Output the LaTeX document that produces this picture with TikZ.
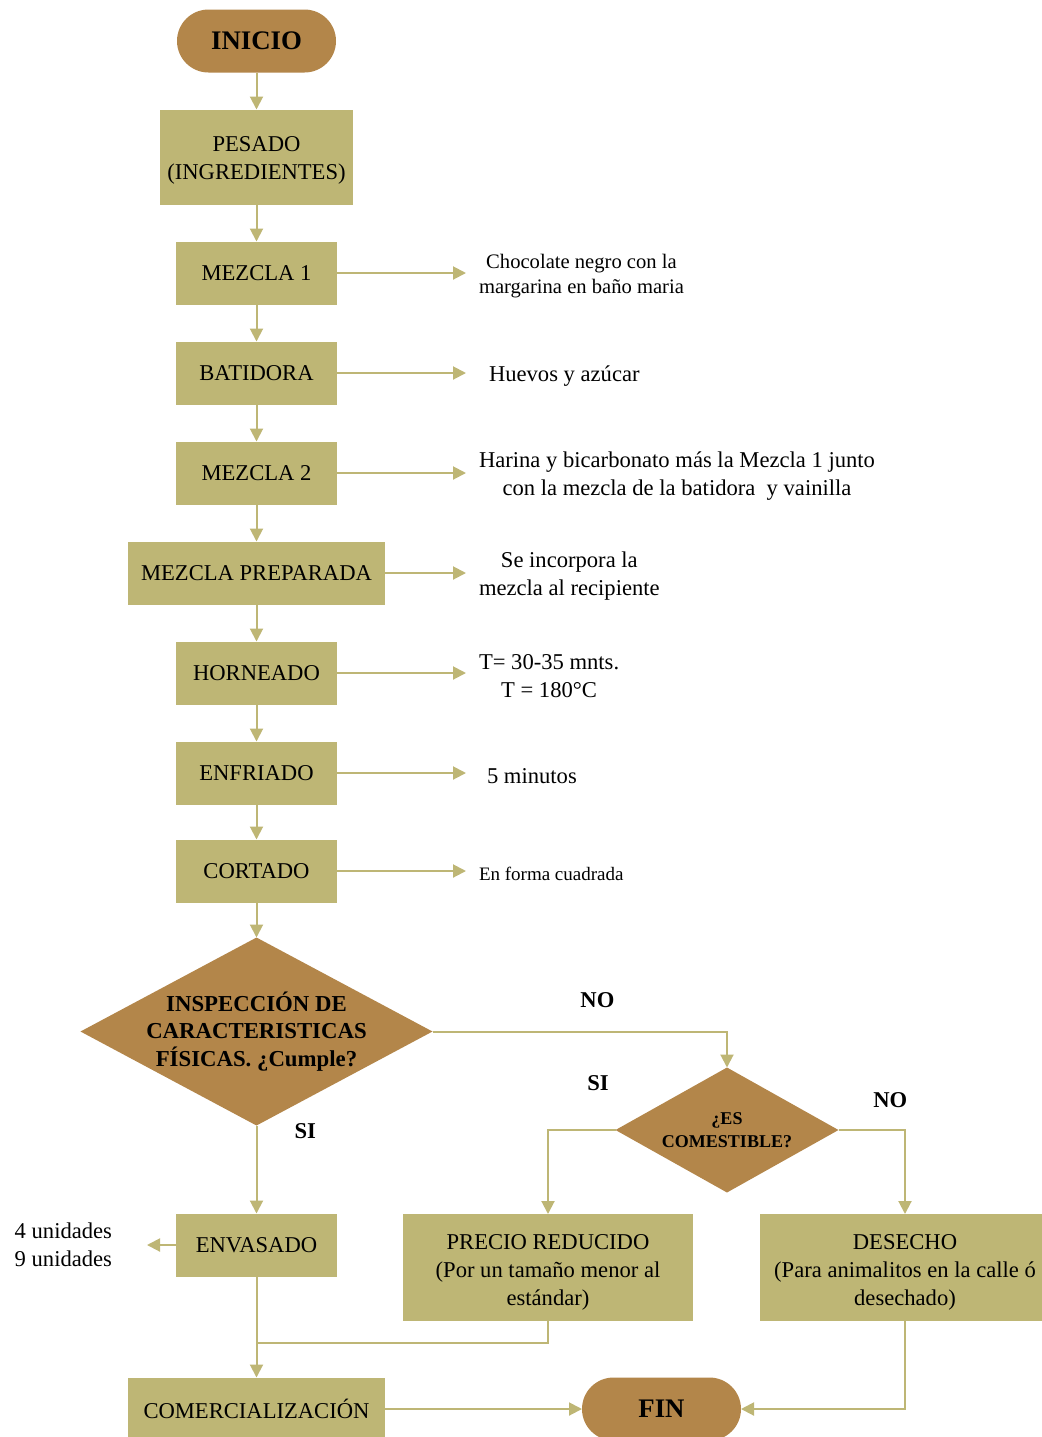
\documentclass[tikz,border=0pt]{standalone}
\usepackage{fontspec}
\setmainfont{Liberation Serif}
\usepackage{xcolor}
\usetikzlibrary{shapes.geometric, arrows.meta}
\usetikzlibrary{positioning}
\definecolor{oliva}{RGB}{190,182,117}
\definecolor{cafe}{RGB}{179,134,74}
\newcommand{\txtnormal}{\fontsize{11.3}{14}\selectfont}
\tikzstyle{proceso} = [rectangle, fill=oliva, minimum width=80.5pt, minimum height=31.5pt, inner sep=0pt, align=center, font=\txtnormal]
\tikzstyle{terminal} = [rectangle, rounded corners=15.75pt, fill=cafe, minimum width=79.5pt, minimum height=31.5pt, font=\fontsize{13.4}{16}\selectfont\bfseries]
\tikzstyle{decision} = [diamond, fill=cafe, shape aspect=2, inner sep=-4pt, align=center, font=\fontsize{11.4}{13.75}\selectfont\bfseries]
\tikzstyle{nota} = [inner xsep=6.5pt, yshift=-1.5pt, align=center, font=\txtnormal]
\tikzstyle{rama} = [inner sep=0pt, text=black, font=\fontsize{11.3}{14}\selectfont\bfseries]
\tikzstyle{flecha} = [color=oliva, line width=1pt, -{Triangle[length=6.5pt, width=6.5pt]}]

\begin{document}
\begin{tikzpicture}[x=0.5pt, y=-0.5pt, node distance=18.5pt, every node/.style={outer sep=0pt}]
  \useasboundingbox (0,0) rectangle (1041,1437);

  % columna principal
  \node[terminal] (inicio) at (256.5,41) {INICIO};
  \node[proceso, below=of inicio, minimum width=96.5pt, minimum height=47.5pt] (pesado) {\rule{0pt}{10.5pt}PESADO\\(INGREDIENTES)};
  \node[proceso, below=of pesado] (mezclaA) {MEZCLA 1};
  \node[proceso, below=of mezclaA] (batidora) {BATIDORA};
  \node[proceso, below=of batidora] (mezclaB) {MEZCLA 2};
  \node[proceso, below=of mezclaB, minimum width=128.5pt] (preparada) {MEZCLA PREPARADA};
  \node[proceso, below=of preparada] (horneado) {HORNEADO};
  \node[proceso, below=of horneado] (enfriado) {ENFRIADO};
  \node[proceso, below=17.5pt of enfriado] (cortado) {CORTADO};
  \node[decision, below=17.5pt of cortado, minimum width=176pt, minimum height=94pt] (inspeccion) {INSPECCIÓN DE\\CARACTERISTICAS\\FÍSICAS. ¿Cumple?};
  \node[proceso, below=44pt of inspeccion] (envasado) {ENVASADO};
  \node[proceso, below=50.5pt of envasado, minimum width=128.5pt] (comercial) {COMERCIALIZACIÓN};
  \node[terminal, right=98.5pt of comercial] (fin) {FIN};

  % segunda decision
  \node[decision, minimum width=111.5pt, minimum height=62.5pt, font=\fontsize{9}{11.5}\selectfont\bfseries] (comestible) at (727,1130) {¿ES\\COMESTIBLE?};
  \node[proceso, minimum width=145pt, minimum height=53.5pt] (precio) at (548,1267.5) {\rule{0pt}{12.5pt}PRECIO REDUCIDO\\(Por un tamaño menor al\\estándar)};
  \node[proceso, minimum width=145pt, minimum height=53.5pt] (desecho) at (905,1267.5) {\rule{0pt}{12.5pt}DESECHO\\(Para animalitos en la calle ó\\desechado)};

  % notas al costado
  \node[nota, right=64.5pt of mezclaA, font=\fontsize{10.3}{12.5}\selectfont] (chocolate) {Chocolate negro con la\\margarina en baño maria};
  \node[nota, right=64.5pt of batidora, inner xsep=11.5pt] (huevos) {Huevos y azúcar};
  \node[nota, right=64.5pt of mezclaB] (harina) {Harina y bicarbonato más la Mezcla 1 junto\\con la mezcla de la batidora\ \ y vainilla};
  \node[nota, right=40.5pt of preparada] (recipiente) {Se incorpora la\\mezcla al recipiente};
  \node[nota, right=64.5pt of horneado] (tiempo) {T= 30-35 mnts.\\T = 180°C};
  \node[nota, right=64.5pt of enfriado, inner xsep=10.5pt] (minutos) {5 minutos};
  \node[nota, right=64.5pt of cortado, font=\fontsize{9.5}{11}\selectfont] (forma) {En forma cuadrada};
  \node[align=left, inner sep=0pt, font=\txtnormal, left=32pt of envasado] (unidades) {4 unidades\\9 unidades};

  \path[flecha] (inicio) edge (pesado);
  \path[flecha] (pesado) edge (mezclaA);
  \path[flecha] (mezclaA) edge (batidora);
  \path[flecha] (batidora) edge (mezclaB);
  \path[flecha] (mezclaB) edge (preparada);
  \path[flecha] (preparada) edge (horneado);
  \path[flecha] (horneado) edge (enfriado);
  \path[flecha] (enfriado) edge (cortado);
  \path[flecha] (cortado) edge (inspeccion);

  \path[flecha] (mezclaA.east) edge (mezclaA.east -| chocolate.west);
  \path[flecha] (batidora.east) edge (batidora.east -| huevos.west);
  \path[flecha] (mezclaB.east) edge (mezclaB.east -| harina.west);
  \path[flecha] (preparada.east) edge (preparada.east -| recipiente.west);
  \path[flecha] (horneado.east) edge (horneado.east -| tiempo.west);
  \path[flecha] (enfriado.east) edge (enfriado.east -| minutos.west);
  \path[flecha] (cortado.east) edge (cortado.east -| forma.west);

  \draw[flecha] (inspeccion.east) -| node[rama, pos=0.28, above=11.75pt] {NO} (comestible.north);
  \path[flecha] (inspeccion) edge node[rama, pos=0.06, right=19pt] {SI} (envasado);
  \draw[flecha] (comestible.west) -| node[rama, pos=0.13, above=19.75pt] {SI} (precio.north);
  \draw[flecha] (comestible.east) -| node[rama, pos=0.39, above=11.25pt] {NO} (desecho.north);

  \draw[flecha, shorten >=17.5pt] (envasado) -- (unidades);
  \path[flecha] (envasado) edge (comercial);
  \coordinate[below=33pt of envasado.south] (union);
  \draw[color=oliva, line width=1pt] (precio.south) |- (union);
  \path[flecha] (comercial) edge (fin);
  \draw[flecha] (desecho.south) |- (fin.east);
\end{tikzpicture}
\end{document}
